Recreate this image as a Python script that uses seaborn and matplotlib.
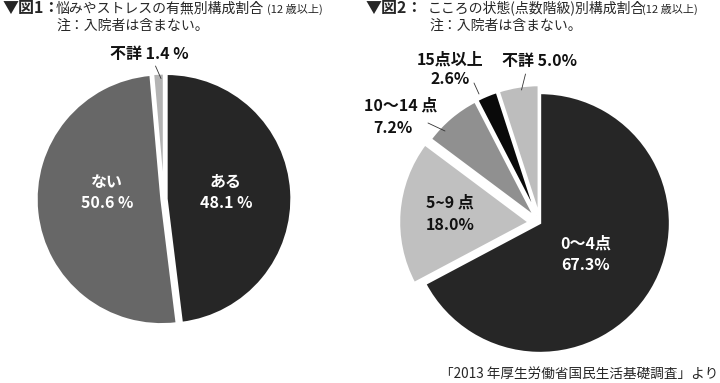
import matplotlib
matplotlib.use("Agg")
import matplotlib.pyplot as plt
import seaborn as sns

sns.set_theme(style="white")
plt.rcParams['font.family'] = ['Noto Sans CJK JP', 'DejaVu Sans']

# 図1: 悩みやストレスの有無
stress_labels = ['ある', 'ない', '不詳']
stress_values = [48.1, 50.6, 1.4]
stress_pct = ['48.1 %', '50.6 %', '1.4 %']
stress_colors = ['#262626', '#676767', '#b3b3b3']

# 図2: こころの状態(点数階級)
kokoro_labels = ['0〜4点', '5~9 点', '10〜14 点', '15点以上', '不詳']
kokoro_values = [67.3, 18.0, 7.2, 2.6, 5.0]
kokoro_pct = ['67.3%', '18.0%', '7.2%', '2.6%', '5.0%']
kokoro_colors = ['#262626', '#c0c0c0', '#909090', '#0a0a0a', '#bdbdbd']

W, H = 720, 383

fig = plt.figure(figsize=(7.2, 3.83), dpi=100)
ax = fig.add_axes([0, 0, 1, 1])

wp = dict(edgecolor='white', linewidth=1.7)
ax.pie(stress_values, colors=stress_colors, startangle=90, counterclock=False,
       center=(164, H - 199), radius=125, explode=[2.5, 2.5, 0.5],
       wedgeprops=wp)
ax.pie(kokoro_values, colors=kokoro_colors, startangle=90, counterclock=False,
       center=(540, H - 223), radius=130, explode=[0, 11, 8, 8, 8],
       wedgeprops=wp)


def put(x, y, s, **kw):
    kw.setdefault('ha', 'center')
    kw.setdefault('va', 'center')
    ax.text(x, H - y, s, **kw)


def leader(x1, y1, x2, y2):
    ax.plot([x1, x2], [H - y1, H - y2], color='#333333', lw=0.6)


# titles
put(3, 8, '▼図1：', ha='left', fontsize=11.5, fontweight='bold')
put(56, 8, '悩みやストレスの有無別構成割合', ha='left', fontsize=10)
put(267, 9, '(12 歳以上)', ha='left', fontsize=8)
put(56, 26, '注：入院者は含まない。', ha='left', fontsize=10)

put(366, 8, '▼図2：', ha='left', fontsize=11.5, fontweight='bold')
put(428, 8, 'こころの状態(点数階級)別構成割合', ha='left', fontsize=10)
put(642, 9, '(12 歳以上)', ha='left', fontsize=8)
put(429, 26, '注：入院者は含まない。', ha='left', fontsize=10)

# 図1 labels
lab = dict(fontsize=11.5, fontweight='bold')
inner = dict(fontsize=11.5, fontweight='bold', color='white')
put(226, 182, stress_labels[0], **inner)
put(226, 203, stress_pct[0], **inner)
put(107, 182, stress_labels[1], **inner)
put(107, 203, stress_pct[1], **inner)
put(149, 54, stress_labels[2] + ' ' + stress_pct[2], color='#111111', **lab)
leader(155.5, 66, 161, 78.5)

# 図2 labels
put(586, 244, kokoro_labels[0], **inner)
put(586, 265, kokoro_pct[0], **inner)
put(450, 203, kokoro_labels[1], color='#111111', **lab)
put(450, 225, kokoro_pct[1], color='#111111', **lab)
put(401, 106, kokoro_labels[2], color='#111111', **lab)
put(393, 128, kokoro_pct[2], color='#111111', **lab)
leader(428, 123, 445, 131)
put(450, 60, kokoro_labels[3], color='#111111', **lab)
put(450, 79, kokoro_pct[3], color='#111111', **lab)
leader(474, 83, 479, 94)
put(540, 61, kokoro_labels[4] + ' ' + kokoro_pct[4], color='#111111', **lab)
leader(525.5, 74, 521.5, 90)

put(718, 375, '「2013 年厚生労働省国民生活基礎調査」より', ha='right', fontsize=9.8)

ax.set_xlim(0, W)
ax.set_ylim(0, H)
ax.set_aspect('auto')
ax.axis('off')

fig.savefig('out.png', dpi=100)
